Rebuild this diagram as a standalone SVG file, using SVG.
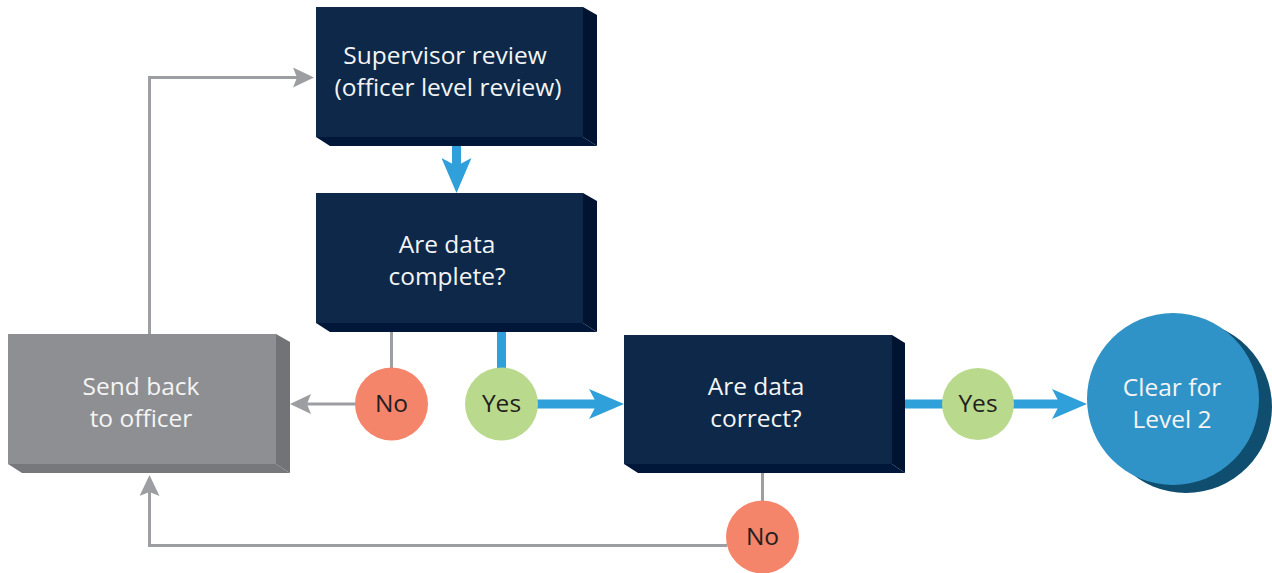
<svg xmlns="http://www.w3.org/2000/svg" width="1272" height="573" viewBox="0 0 1272 573">
<style>
.front{fill:#0d2849}
.side{fill:#001432}
.bottom{fill:#00173a}
.gfront{fill:#8e8f93}
.gside{fill:#727377}
.gbottom{fill:#77787c}
.lbl{font-family:"Open Sans","Liberation Sans",sans-serif;font-size:24.5px;fill:#f4f4f4;text-anchor:middle}
.dlbl{font-family:"Open Sans","Liberation Sans",sans-serif;font-size:24.5px;fill:#231f20;text-anchor:middle}
.blue{stroke:#2fa0da;stroke-width:9;fill:none}
.gray{stroke:#9d9ea2;stroke-width:3;fill:none}
.no{fill:#f4846a}
.yes{fill:#b9d98c}
</style>
<defs>
<marker id="ab" markerUnits="userSpaceOnUse" viewBox="0 0 35 30" refX="8" refY="15" markerWidth="35" markerHeight="30" orient="auto">
<path d="M0,0 L35,15 L0,30 L8,15 Z" fill="#2fa0da"/>
</marker>
<marker id="ag" markerUnits="userSpaceOnUse" viewBox="0 0 21 20" refX="4" refY="10" markerWidth="21" markerHeight="20" orient="auto">
<path d="M0,0 L21,10 L0,20 L4,10 Z" fill="#9d9ea2"/>
</marker>
</defs>
<g id="connectors">
<line class="blue" x1="456.5" y1="146" x2="456.5" y2="166" marker-end="url(#ab)"/>
<line class="blue" x1="501.5" y1="332" x2="501.5" y2="368"/>
<line class="gray" x1="391.5" y1="332" x2="391.5" y2="368"/>
<line class="gray" x1="356" y1="404" x2="307" y2="404" marker-end="url(#ag)"/>
<line class="blue" x1="537" y1="404" x2="597" y2="404" marker-end="url(#ab)"/>
<line class="blue" x1="905" y1="404" x2="943" y2="404"/>
<line class="blue" x1="1013" y1="404" x2="1060" y2="404" marker-end="url(#ab)"/>
<line class="gray" x1="762.5" y1="473" x2="762.5" y2="501"/>
<path class="gray" d="M727,545.5 H149.5 V492" marker-end="url(#ag)"/>
<path class="gray" d="M149.5,334 V77.5 H297" marker-end="url(#ag)"/>
</g>
<g id="supervisor">
<polygon class="side" points="583,7 597,15 597,146 583,137"/>
<polygon class="bottom" points="316,137 330,146 597,146 583,137"/>
<rect class="front" x="316" y="7" width="267" height="130"/>
<text class="lbl" x="445" y="64">Supervisor review</text>
<text class="lbl" x="448" y="96">(officer level review)</text>
</g>
<g id="complete">
<polygon class="side" points="583,193 597,201 597,332 583,323"/>
<polygon class="bottom" points="316,323 330,332 597,332 583,323"/>
<rect class="front" x="316" y="193" width="267" height="130"/>
<text class="lbl" x="447" y="253">Are data</text>
<text class="lbl" x="447" y="285">complete?</text>
</g>
<g id="correct">
<polygon class="side" points="892,335 905,343 905,473 892,464"/>
<polygon class="bottom" points="624,464 638,473 905,473 892,464"/>
<rect class="front" x="624" y="335" width="268" height="129"/>
<text class="lbl" x="756" y="395">Are data</text>
<text class="lbl" x="756" y="427">correct?</text>
</g>
<g id="sendback">
<polygon class="gside" points="276,334 290,342 290,473 276,464"/>
<polygon class="gbottom" points="8,464 22,473 290,473 276,464"/>
<rect class="gfront" x="8" y="334" width="268" height="130"/>
<text class="lbl" x="141" y="395">Send back</text>
<text class="lbl" x="141" y="427">to officer</text>
</g>
<g id="clear">
<circle cx="1186" cy="407" r="86" fill="#0f4e6f"/>
<circle cx="1173" cy="399" r="86" fill="#3093c7"/>
<text class="lbl" x="1172" y="396">Clear for</text>
<text class="lbl" x="1172" y="428">Level 2</text>
</g>
<g id="no1">
<circle class="no" cx="391.5" cy="404" r="36.5"/>
<text class="dlbl" x="391.5" y="412">No</text>
</g>
<g id="yes1">
<circle class="yes" cx="501.5" cy="404" r="36.5"/>
<text class="dlbl" x="501.5" y="412">Yes</text>
</g>
<g id="yes2">
<circle class="yes" cx="978" cy="404" r="36"/>
<text class="dlbl" x="978" y="412">Yes</text>
</g>
<g id="no2">
<circle class="no" cx="762.5" cy="537" r="36.5"/>
<text class="dlbl" x="762.5" y="545">No</text>
</g>
</svg>
